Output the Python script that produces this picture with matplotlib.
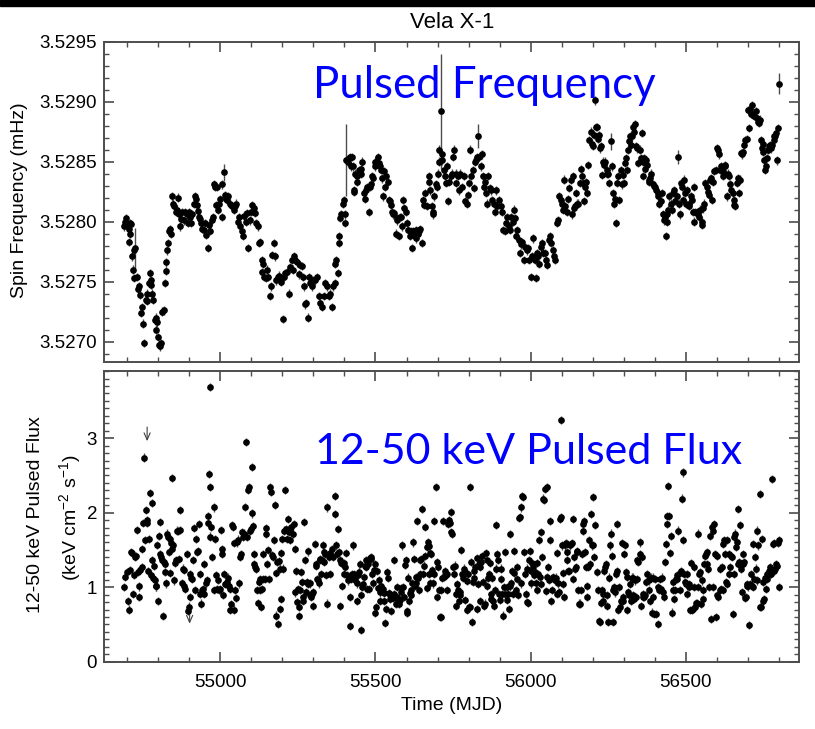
import numpy as np
import matplotlib
matplotlib.use('Agg')
import matplotlib.pyplot as plt
from matplotlib.ticker import MultipleLocator, FormatStrFormatter
from matplotlib.patches import Rectangle

# spin frequency (mHz) vs MJD
freq_mjd = [
    54689, 54694, 54697, 54700, 54705, 54708, 54712, 54710, 54707, 54716,
    54721, 54726, 54718, 54723, 54730, 54734, 54738, 54742, 54745, 54749,
    54751, 54753, 54759, 54762, 54764, 54769, 54773, 54775, 54777, 54780,
    54783, 54788, 54791, 54794, 54796, 54798, 54801, 54805, 54809, 54813,
    54818, 54820, 54824, 54826, 54828, 54830, 54833, 54837, 54841, 54844,
    54848, 54852, 54856, 54861, 54864, 54867, 54871, 54874, 54878, 54882,
    54887, 54891, 54895, 54898, 54901, 54906, 54910, 54914, 54918, 54921,
    54925, 54928, 54931, 54936, 54939, 54942, 54946, 54951, 54955, 54959,
    54964, 54968, 54972, 54976, 54981, 54984, 54987, 54989, 54992, 54996,
    55000, 55004, 55006, 55011, 55014, 55017, 55021, 55026, 55030, 55034,
    55039, 55043, 55047, 55052, 55056, 55060, 55064, 55069, 55073, 55077,
    55082, 55086, 55090, 55094, 55099, 55103, 55107, 55112, 55116, 55120,
    55124, 55129, 55133, 55135, 55139, 55142, 55146, 55150, 55155, 55159,
    55163, 55167, 55172, 55176, 55180, 55185, 55189, 55193, 55197, 55202,
    55204, 55209, 55215, 55220, 55225, 55231, 55234, 55238, 55242, 55247,
    55252, 55258, 55263, 55268, 55270, 55273, 55277, 55281, 55285, 55290,
    55294, 55300, 55306, 55311, 55317, 55322, 55327, 55333, 55338, 55343,
    55349, 55354, 55360, 55363, 55368, 55371, 55374, 55378, 55382, 55384,
    55387, 55390, 55394, 55398, 55401, 55403, 55406, 55411, 55414, 55417,
    55421, 55425, 55428, 55430, 55432, 55435, 55439, 55441, 55446, 55452,
    55454, 55457, 55462, 55466, 55469, 55473, 55478, 55481, 55486, 55489,
    55492, 55497, 55500, 55503, 55508, 55511, 55514, 55518, 55522, 55525,
    55529, 55532, 55535, 55540, 55543, 55546, 55551, 55554, 55557, 55561,
    55565, 55568, 55570, 55575, 55578, 55583, 55586, 55589, 55591, 55597,
    55602, 55606, 55611, 55613, 55618, 55622, 55626, 55629, 55632, 55637,
    55640, 55645, 55649, 55654, 55656, 55661, 55667, 55671, 55674, 55677,
    55681, 55684, 55687, 55690, 55695, 55699, 55702, 55704, 55706, 55710,
    55713, 55716, 55720, 55724, 55727, 55731, 55733, 55738, 55742, 55746,
    55749, 55753, 55758, 55761, 55766, 55769, 55774, 55780, 55785, 55790,
    55794, 55798, 55802, 55804, 55809, 55813, 55817, 55822, 55825, 55828,
    55832, 55835, 55839, 55842, 55845, 55849, 55853, 55856, 55860, 55863,
    55868, 55871, 55876, 55882, 55885, 55889, 55892, 55898, 55903, 55908,
    55912, 55916, 55920, 55925, 55929, 55933, 55938, 55942, 55946, 55949,
    55953, 55957, 55962, 55966, 55970, 55973, 55979, 55983, 55987, 55991,
    55996, 56000, 56005, 56009, 56013, 56016, 56019, 56024, 56028, 56032,
    56037, 56041, 56045, 56049, 56054, 56058, 56062, 56067, 56071, 56075,
    56080, 56084, 56088, 56092, 56097, 56100, 56105, 56108, 56111, 56116,
    56122, 56125, 56129, 56132, 56136, 56140, 56143, 56146, 56148, 56154,
    56159, 56161, 56165, 56168, 56172, 56175, 56179, 56181, 56186, 56189,
    56194, 56197, 56200, 56203, 56207, 56210, 56213, 56216, 56219, 56224,
    56227, 56230, 56234, 56238, 56241, 56245, 56247, 56251, 56254, 56258,
    56261, 56265, 56269, 56272, 56275, 56277, 56282, 56286, 56290, 56294,
    56297, 56301, 56304, 56308, 56312, 56315, 56318, 56320, 56323, 56326,
    56329, 56333, 56337, 56340, 56344, 56347, 56351, 56355, 56358, 56361,
    56363, 56367, 56370, 56372, 56376, 56380, 56383, 56385, 56389, 56394,
    56398, 56401, 56404, 56409, 56412, 56415, 56419, 56423, 56426, 56430,
    56433, 56437, 56439, 56441, 56444, 56447, 56452, 56455, 56458, 56462,
    56466, 56471, 56474, 56477, 56482, 56484, 56487, 56490, 56495, 56499,
    56501, 56505, 56509, 56512, 56516, 56519, 56523, 56525, 56528, 56531,
    56535, 56539, 56542, 56546, 56551, 56554, 56557, 56560, 56563, 56568,
    56571, 56574, 56578, 56582, 56585, 56589, 56592, 56596, 56600, 56604,
    56606, 56611, 56615, 56619, 56621, 56625, 56628, 56632, 56635, 56639,
    56643, 56647, 56651, 56654, 56657, 56660, 56664, 56668, 56671, 56675,
    56678, 56682, 56686, 56689, 56692, 56697, 56702, 56705, 56707, 56711,
    56714, 56717, 56720, 56725, 56729, 56732, 56735, 56738, 56742, 56745,
    56748, 56750, 56753, 56756, 56759, 56761, 56764, 56767, 56772, 56774,
    56778, 56783, 56786, 56789, 56791, 56795, 56798, 56801,
]
freq_val = [
    3.52796, 3.52800, 3.52803, 3.52796, 3.52794, 3.52799, 3.52798, 3.52790, 3.52783, 3.52771,
    3.52776, 3.52778, 3.52760, 3.52753, 3.52754, 3.52744, 3.52746, 3.52739, 3.52724, 3.52729,
    3.52715, 3.52699, 3.52735, 3.52740, 3.52734, 3.52749, 3.52757, 3.52751, 3.52747, 3.52740,
    3.52735, 3.52718, 3.52710, 3.52720, 3.52716, 3.52704, 3.52697, 3.52696, 3.52699, 3.52725,
    3.52726, 3.52749, 3.52759, 3.52766, 3.52776, 3.52782, 3.52792, 3.52794, 3.52790, 3.52821,
    3.52815, 3.52813, 3.52808, 3.52810, 3.52820, 3.52806, 3.52796, 3.52802, 3.52808, 3.52801,
    3.52808, 3.52806, 3.52799, 3.52808, 3.52804, 3.52799, 3.52806, 3.52815, 3.52821, 3.52819,
    3.52814, 3.52809, 3.52804, 3.52802, 3.52799, 3.52794, 3.52793, 3.52799, 3.52789, 3.52778,
    3.52797, 3.52792, 3.52801, 3.52804, 3.52831, 3.52829, 3.52814, 3.52829, 3.52810, 3.52815,
    3.52819, 3.52804, 3.52831, 3.52841, 3.52822, 3.52819, 3.52818, 3.52821, 3.52815, 3.52814,
    3.52813, 3.52810, 3.52813, 3.52815, 3.52800, 3.52804, 3.52796, 3.52792, 3.52788, 3.52805,
    3.52800, 3.52807, 3.52778, 3.52801, 3.52808, 3.52814, 3.52811, 3.52807, 3.52799, 3.52796,
    3.52782, 3.52783, 3.52768, 3.52758, 3.52765, 3.52754, 3.52753, 3.52760, 3.52754, 3.52738,
    3.52746, 3.52772, 3.52782, 3.52771, 3.52751, 3.52754, 3.52755, 3.52751, 3.52750, 3.52719,
    3.52754, 3.52757, 3.52758, 3.52740, 3.52762, 3.52768, 3.52760, 3.52771, 3.52768, 3.52766,
    3.52756, 3.52764, 3.52763, 3.52754, 3.52746, 3.52731, 3.52732, 3.52720, 3.52754, 3.52749,
    3.52746, 3.52751, 3.52751, 3.52754, 3.52738, 3.52732, 3.52729, 3.52738, 3.52749, 3.52746,
    3.52738, 3.52740, 3.52729, 3.52746, 3.52749, 3.52765, 3.52768, 3.52757, 3.52782, 3.52788,
    3.52803, 3.52806, 3.52815, 3.52818, 3.52799, 3.52806, 3.52851, 3.52850, 3.52853, 3.52854,
    3.52846, 3.52854, 3.52846, 3.52826, 3.52825, 3.52840, 3.52833, 3.52838, 3.52843, 3.52840,
    3.52844, 3.52850, 3.52824, 3.52819, 3.52826, 3.52829, 3.52808, 3.52829, 3.52831, 3.52838,
    3.52836, 3.52850, 3.52846, 3.52850, 3.52854, 3.52849, 3.52846, 3.52843, 3.52836, 3.52821,
    3.52842, 3.52829, 3.52838, 3.52833, 3.52818, 3.52817, 3.52814, 3.52808, 3.52806, 3.52807,
    3.52790, 3.52801, 3.52803, 3.52788, 3.52804, 3.52804, 3.52796, 3.52818, 3.52811, 3.52808,
    3.52799, 3.52793, 3.52788, 3.52792, 3.52778, 3.52792, 3.52788, 3.52793, 3.52786, 3.52790,
    3.52792, 3.52794, 3.52782, 3.52818, 3.52814, 3.52824, 3.52813, 3.52838, 3.52833, 3.52826,
    3.52813, 3.52808, 3.52806, 3.52821, 3.52831, 3.52829, 3.52840, 3.52850, 3.52860, 3.52892,
    3.52856, 3.52851, 3.52843, 3.52838, 3.52832, 3.52846, 3.52817, 3.52833, 3.52838, 3.52840,
    3.52854, 3.52860, 3.52840, 3.52832, 3.52838, 3.52826, 3.52840, 3.52829, 3.52838, 3.52817,
    3.52815, 3.52822, 3.52832, 3.52860, 3.52838, 3.52843, 3.52828, 3.52850, 3.52851, 3.52854,
    3.52871, 3.52854, 3.52846, 3.52856, 3.52838, 3.52829, 3.52833, 3.52824, 3.52815, 3.52838,
    3.52828, 3.52826, 3.52818, 3.52815, 3.52808, 3.52826, 3.52813, 3.52818, 3.52813, 3.52808,
    3.52793, 3.52792, 3.52799, 3.52804, 3.52796, 3.52793, 3.52804, 3.52800, 3.52810, 3.52803,
    3.52788, 3.52793, 3.52785, 3.52774, 3.52781, 3.52783, 3.52768, 3.52779, 3.52776, 3.52778,
    3.52768, 3.52754, 3.52771, 3.52786, 3.52768, 3.52753, 3.52774, 3.52771, 3.52765, 3.52779,
    3.52782, 3.52774, 3.52774, 3.52768, 3.52764, 3.52785, 3.52788, 3.52782, 3.52776, 3.52771,
    3.52768, 3.52799, 3.52801, 3.52821, 3.52818, 3.52815, 3.52810, 3.52835, 3.52813, 3.52808,
    3.52819, 3.52828, 3.52835, 3.52806, 3.52838, 3.52811, 3.52813, 3.52824, 3.52815, 3.52815,
    3.52832, 3.52844, 3.52838, 3.52832, 3.52817, 3.52829, 3.52833, 3.52824, 3.52847, 3.52868,
    3.52875, 3.52865, 3.52863, 3.52872, 3.52901, 3.52879, 3.52879, 3.52869, 3.52872, 3.52861,
    3.52863, 3.52839, 3.52850, 3.52847, 3.52850, 3.52840, 3.52843, 3.52840, 3.52832, 3.52867,
    3.52846, 3.52824, 3.52815, 3.52819, 3.52799, 3.52832, 3.52838, 3.52818, 3.52843, 3.52831,
    3.52839, 3.52832, 3.52849, 3.52853, 3.52843, 3.52860, 3.52867, 3.52871, 3.52864, 3.52871,
    3.52879, 3.52875, 3.52881, 3.52863, 3.52861, 3.52849, 3.52860, 3.52853, 3.52874, 3.52850,
    3.52838, 3.52853, 3.52844, 3.52851, 3.52847, 3.52833, 3.52835, 3.52836, 3.52840, 3.52831,
    3.52830, 3.52829, 3.52826, 3.52824, 3.52821, 3.52815, 3.52817, 3.52824, 3.52806, 3.52801,
    3.52804, 3.52788, 3.52806, 3.52800, 3.52810, 3.52821, 3.52815, 3.52810, 3.52824, 3.52826,
    3.52817, 3.52821, 3.52854, 3.52815, 3.52806, 3.52832, 3.52829, 3.52818, 3.52835, 3.52824,
    3.52815, 3.52826, 3.52813, 3.52815, 3.52821, 3.52818, 3.52808, 3.52800, 3.52829, 3.52808,
    3.52808, 3.52806, 3.52804, 3.52810, 3.52800, 3.52797, 3.52811, 3.52815, 3.52832, 3.52829,
    3.52825, 3.52822, 3.52835, 3.52836, 3.52818, 3.52833, 3.52842, 3.52843, 3.52861, 3.52860,
    3.52856, 3.52843, 3.52846, 3.52838, 3.52842, 3.52846, 3.52847, 3.52821, 3.52840, 3.52838,
    3.52831, 3.52826, 3.52824, 3.52818, 3.52814, 3.52813, 3.52832, 3.52836, 3.52824, 3.52835,
    3.52857, 3.52856, 3.52858, 3.52864, 3.52868, 3.52869, 3.52893, 3.52878, 3.52894, 3.52890,
    3.52897, 3.52889, 3.52888, 3.52892, 3.52886, 3.52883, 3.52882, 3.52885, 3.52868, 3.52861,
    3.52858, 3.52865, 3.52851, 3.52843, 3.52846, 3.52853, 3.52860, 3.52863, 3.52864, 3.52861,
    3.52864, 3.52871, 3.52868, 3.52871, 3.52874, 3.52851, 3.52878, 3.52915,
]
FREQ_ERR = 0.000035
# points with visibly longer error bars
wide_err_mjd = [54726, 55011, 55406, 55710, 55832, 56258, 56474, 56801]
wide_err_val = [0.00017, 0.00007, 0.00030, 0.00048, 0.00010, 0.00007, 0.00006, 0.00009]

# 12-50 keV pulsed flux (keV cm^-2 s^-1) vs MJD
flux_mjd = [
    54691, 54694, 54700, 54703, 54707, 54710, 54712, 54716, 54719, 54721,
    54724, 54727, 54730, 54734, 54737, 54739, 54742, 54746, 54748, 54751,
    54753, 54756, 54761, 54762, 54764, 54766, 54769, 54773, 54777, 54780,
    54781, 54783, 54785, 54788, 54791, 54794, 54796, 54798, 54801, 54805,
    54807, 54810, 54812, 54815, 54818, 54821, 54823, 54826, 54828, 54830,
    54834, 54837, 54839, 54841, 54843, 54845, 54848, 54852, 54855, 54858,
    54860, 54863, 54866, 54869, 54871, 54877, 54880, 54882, 54884, 54887,
    54891, 54895, 54898, 54901, 54903, 54906, 54909, 54912, 54916, 54919,
    54923, 54925, 54928, 54931, 54933, 54936, 54938, 54941, 54944, 54946,
    54948, 54953, 54957, 54959, 54960, 54962, 54966, 54968, 54971, 54973,
    54979, 54981, 54984, 54987, 54989, 54992, 54996, 54998, 55002, 55004,
    55005, 55009, 55013, 55016, 55019, 55021, 55024, 55027, 55030, 55032,
    55034, 55039, 55041, 55043, 55045, 55048, 55051, 55054, 55056, 55060,
    55064, 55067, 55070, 55073, 55075, 55077, 55080, 55084, 55086, 55088,
    55091, 55094, 55099, 55101, 55103, 55105, 55107, 55109, 55112, 55114,
    55118, 55120, 55123, 55127, 55129, 55132, 55134, 55137, 55139, 55143,
    55146, 55148, 55150, 55153, 55157, 55161, 55164, 55166, 55169, 55172,
    55175, 55178, 55180, 55182, 55186, 55188, 55191, 55193, 55195, 55197,
    55200, 55202, 55206, 55209, 55212, 55215, 55217, 55220, 55223, 55225,
    55228, 55233, 55236, 55239, 55241, 55245, 55247, 55249, 55252, 55254,
    55258, 55261, 55263, 55266, 55268, 55270, 55273, 55275, 55279, 55282,
    55284, 55288, 55290, 55292, 55295, 55298, 55300, 55304, 55307, 55309,
    55311, 55314, 55318, 55320, 55322, 55324, 55327, 55330, 55333, 55335,
    55338, 55340, 55343, 55345, 55349, 55352, 55354, 55360, 55363, 55368,
    55371, 55374, 55376, 55378, 55382, 55385, 55387, 55389, 55392, 55396,
    55398, 55400, 55403, 55406, 55409, 55411, 55414, 55417, 55419, 55421,
    55425, 55428, 55430, 55432, 55435, 55439, 55441, 55443, 55446, 55449,
    55452, 55454, 55457, 55460, 55462, 55465, 55468, 55471, 55473, 55475,
    55478, 55482, 55484, 55486, 55489, 55492, 55495, 55497, 55500, 55503,
    55505, 55508, 55511, 55514, 55516, 55518, 55522, 55525, 55527, 55529,
    55532, 55535, 55538, 55540, 55543, 55546, 55548, 55551, 55554, 55557,
    55559, 55561, 55565, 55568, 55570, 55573, 55575, 55578, 55581, 55583,
    55586, 55589, 55591, 55594, 55597, 55600, 55602, 55604, 55608, 55611,
    55613, 55615, 55618, 55622, 55624, 55626, 55629, 55632, 55634, 55637,
    55640, 55643, 55645, 55647, 55651, 55654, 55656, 55658, 55661, 55665,
    55667, 55669, 55671, 55673, 55675, 55677, 55680, 55683, 55686, 55688,
    55690, 55694, 55697, 55699, 55701, 55704, 55708, 55710, 55712, 55715,
    55718, 55720, 55723, 55726, 55729, 55731, 55733, 55737, 55740, 55742,
    55744, 55747, 55751, 55753, 55755, 55758, 55761, 55763, 55766, 55769,
    55772, 55774, 55776, 55780, 55783, 55785, 55787, 55790, 55794, 55796,
    55798, 55801, 55804, 55806, 55809, 55812, 55815, 55817, 55819, 55822,
    55826, 55828, 55830, 55833, 55836, 55838, 55841, 55844, 55847, 55849,
    55852, 55855, 55858, 55860, 55862, 55866, 55869, 55871, 55873, 55876,
    55880, 55882, 55884, 55887, 55890, 55892, 55895, 55898, 55901, 55903,
    55905, 55909, 55912, 55914, 55916, 55919, 55923, 55925, 55927, 55930,
    55933, 55935, 55938, 55941, 55944, 55946, 55948, 55952, 55955, 55957,
    55959, 55962, 55966, 55968, 55970, 55973, 55975, 55978, 55981, 55984,
    55987, 55989, 55991, 55995, 55998, 56000, 56002, 56005, 56009, 56011,
    56013, 56016, 56019, 56021, 56024, 56027, 56030, 56032, 56034, 56038,
    56041, 56043, 56045, 56048, 56052, 56054, 56056, 56059, 56062, 56064,
    56067, 56070, 56073, 56075, 56077, 56081, 56084, 56086, 56088, 56091,
    56095, 56097, 56099, 56100, 56103, 56105, 56108, 56111, 56114, 56116,
    56118, 56122, 56125, 56127, 56129, 56132, 56136, 56138, 56140, 56143,
    56146, 56148, 56151, 56154, 56157, 56159, 56161, 56165, 56168, 56170,
    56172, 56175, 56179, 56181, 56183, 56186, 56189, 56191, 56194, 56197,
    56200, 56202, 56205, 56209, 56213, 56218, 56222, 56224, 56226, 56229,
    56232, 56234, 56237, 56240, 56243, 56245, 56247, 56251, 56254, 56256,
    56259, 56261, 56265, 56267, 56269, 56272, 56275, 56277, 56280, 56283,
    56286, 56288, 56290, 56294, 56297, 56299, 56301, 56304, 56308, 56310,
    56312, 56315, 56318, 56320, 56323, 56326, 56329, 56331, 56333, 56337,
    56340, 56342, 56344, 56347, 56351, 56353, 56355, 56358, 56361, 56363,
    56366, 56369, 56372, 56376, 56380, 56383, 56385, 56387, 56390, 56394,
    56396, 56398, 56401, 56404, 56409, 56412, 56415, 56417, 56419, 56423,
    56426, 56430, 56433, 56437, 56439, 56441, 56444, 56447, 56449, 56452,
    56455, 56458, 56460, 56462, 56466, 56469, 56471, 56473, 56476, 56480,
    56482, 56484, 56487, 56490, 56492, 56495, 56498, 56501, 56503, 56505,
    56509, 56512, 56514, 56516, 56519, 56523, 56525, 56527, 56530, 56533,
    56535, 56538, 56541, 56544, 56546, 56548, 56552, 56555, 56557, 56559,
    56562, 56566, 56568, 56570, 56573, 56576, 56578, 56581, 56584, 56587,
    56589, 56591, 56595, 56598, 56600, 56602, 56605, 56609, 56611, 56613,
    56616, 56619, 56621, 56624, 56627, 56630, 56632, 56634, 56638, 56641,
    56643, 56645, 56648, 56652, 56654, 56656, 56659, 56662, 56664, 56667,
    56670, 56673, 56675, 56677, 56681, 56684, 56686, 56688, 56691, 56695,
    56697, 56699, 56702, 56705, 56707, 56710, 56713, 56716, 56718, 56720,
    56724, 56727, 56729, 56731, 56734, 56738, 56740, 56742, 56745, 56748,
    56750, 56753, 56756, 56759, 56761, 56763, 56767, 56770, 56772, 56774,
    56777, 56781, 56783, 56785, 56788, 56791, 56793, 56796, 56799, 56801,
    54968,
]
flux_val = [
    1.00, 1.14, 1.20, 0.81, 0.70, 1.23, 1.47, 1.46, 0.91, 1.16,
    1.40, 1.42, 1.77, 1.21, 1.01, 0.87, 1.23, 1.27, 1.51, 1.86,
    2.74, 1.63, 2.04, 1.90, 1.86, 1.22, 1.65, 2.26, 1.17, 2.13,
    1.36, 1.13, 1.28, 1.09, 1.01, 1.01, 1.57, 0.82, 1.69, 1.87,
    1.45, 1.40, 1.36, 0.61, 1.34, 1.31, 1.20, 1.05, 1.72, 1.68,
    1.47, 1.65, 1.19, 1.59, 2.47, 1.51, 1.56, 1.09, 1.32, 1.36,
    1.76, 1.75, 1.38, 2.04, 1.77, 1.05, 1.25, 1.02, 1.23, 0.98,
    1.45, 0.68, 0.74, 0.87, 1.18, 1.13, 1.11, 1.36, 1.80, 0.96,
    1.65, 1.47, 1.49, 1.85, 1.18, 0.91, 0.78, 0.96, 0.98, 0.91,
    1.31, 1.05, 1.09, 1.86, 1.96, 2.52, 1.68, 2.35, 1.81, 1.41,
    0.96, 2.07, 1.65, 1.16, 0.98, 1.10, 0.96, 0.97, 1.77, 1.51,
    1.45, 0.89, 1.18, 1.04, 1.04, 1.07, 1.13, 1.02, 0.98, 0.69,
    0.77, 1.84, 1.81, 1.59, 0.70, 0.96, 0.86, 1.60, 1.64, 1.05,
    1.41, 1.45, 1.74, 1.68, 1.71, 1.72, 2.08, 2.95, 1.68, 2.30,
    2.34, 1.76, 1.78, 2.61, 1.99, 1.82, 1.45, 1.31, 1.27, 1.25,
    0.96, 0.79, 1.07, 0.96, 1.11, 0.73, 0.98, 1.11, 1.45, 1.11,
    1.72, 1.80, 1.31, 1.50, 1.11, 2.35, 2.28, 1.43, 1.40, 1.63,
    2.10, 1.19, 0.62, 1.34, 0.51, 1.35, 1.25, 0.71, 1.46, 0.84,
    1.65, 1.25, 1.76, 2.31, 1.78, 1.65, 1.92, 1.74, 1.63, 1.78,
    1.81, 1.72, 1.85, 0.93, 1.51, 1.22, 0.80, 0.98, 0.73, 0.61,
    0.96, 1.20, 1.07, 0.82, 0.87, 1.87, 1.37, 0.93, 1.07, 1.04,
    1.48, 0.89, 1.05, 0.87, 0.91, 0.75, 0.93, 1.58, 1.28, 1.31,
    1.11, 1.09, 1.05, 1.36, 1.38, 1.18, 1.37, 1.56, 1.47, 1.34,
    1.45, 1.16, 2.07, 0.78, 1.40, 1.18, 1.46, 1.51, 1.40, 2.22,
    1.98, 1.56, 1.45, 1.78, 1.47, 1.36, 0.75, 1.32, 1.02, 1.31,
    1.18, 1.32, 1.27, 1.46, 1.16, 1.09, 1.14, 0.87, 0.48, 1.11,
    1.18, 1.56, 1.14, 1.18, 1.09, 0.82, 1.05, 1.16, 1.21, 1.31,
    0.89, 0.43, 1.00, 1.04, 1.14, 1.29, 1.27, 1.36, 0.98, 1.31,
    0.98, 1.39, 1.38, 1.40, 1.18, 1.05, 1.23, 1.31, 0.65, 0.73,
    1.22, 0.99, 1.09, 0.93, 0.82, 1.02, 0.96, 0.98, 0.82, 0.92,
    0.52, 0.71, 1.20, 1.13, 0.92, 0.84, 0.89, 0.68, 0.87, 0.86,
    0.91, 1.36, 0.78, 0.87, 1.00, 0.83, 0.78, 0.83, 0.93, 0.99,
    1.56, 1.00, 0.87, 1.30, 1.36, 0.68, 0.66, 1.13, 0.82, 0.92,
    0.89, 0.96, 1.05, 1.60, 1.38, 1.02, 1.05, 1.14, 1.89, 1.13,
    0.96, 1.18, 1.36, 1.38, 2.05, 1.18, 1.29, 1.42, 1.81, 0.99,
    1.54, 1.60, 1.55, 1.18, 1.46, 1.05, 1.45, 1.23, 1.05, 1.18,
    1.89, 2.34, 0.87, 1.34, 1.27, 0.96, 0.60, 0.96, 0.60, 1.13,
    1.89, 1.14, 1.22, 1.16, 0.96, 1.18, 1.85, 1.90, 1.86, 1.74,
    2.01, 1.72, 1.27, 1.18, 1.29, 0.75, 0.91, 1.04, 0.96, 0.82,
    0.89, 0.93, 1.50, 1.18, 1.13, 1.25, 0.83, 1.20, 1.08, 0.69,
    1.18, 0.73, 2.34, 0.73, 1.34, 0.53, 1.07, 1.13, 1.22, 1.27,
    1.39, 0.71, 1.04, 1.31, 1.27, 0.82, 1.34, 1.42, 1.07, 0.75,
    0.78, 1.46, 1.36, 1.02, 1.13, 1.18, 1.32, 0.91, 0.84, 1.13,
    0.82, 0.75, 0.96, 1.25, 1.84, 1.45, 1.36, 0.91, 0.83, 1.25,
    1.11, 0.91, 0.62, 1.00, 0.91, 1.47, 1.00, 0.83, 0.91, 0.71,
    1.71, 1.01, 1.05, 1.22, 0.91, 1.49, 1.19, 0.96, 1.11, 1.27,
    0.89, 1.93, 1.94, 1.05, 2.07, 2.22, 2.21, 1.47, 1.18, 0.91,
    0.80, 1.25, 0.79, 1.36, 1.49, 1.05, 1.22, 1.32, 1.27, 1.16,
    1.20, 1.05, 1.32, 0.96, 1.18, 1.63, 1.14, 1.04, 1.74, 1.40,
    2.19, 2.17, 2.32, 0.95, 1.14, 2.34, 1.27, 1.10, 1.89, 1.63,
    0.82, 0.96, 1.14, 1.11, 1.09, 1.13, 1.46, 0.91, 1.05, 0.93,
    1.92, 3.24, 1.94, 1.56, 1.19, 1.04, 0.87, 1.56, 1.59, 1.47,
    1.36, 1.22, 1.22, 1.56, 1.58, 1.59, 1.11, 1.92, 1.40, 1.25,
    1.27, 1.48, 1.47, 0.96, 0.78, 0.78, 0.96, 1.45, 1.85, 1.75,
    1.89, 1.47, 1.27, 1.02, 0.87, 1.27, 1.63, 1.31, 1.98, 1.56,
    1.57, 2.21, 1.40, 1.84, 1.20, 0.96, 0.55, 0.53, 0.79, 0.96,
    0.82, 0.91, 1.22, 1.27, 1.31, 0.75, 0.89, 0.53, 1.13, 1.56,
    1.72, 1.42, 0.96, 0.53, 1.00, 0.93, 1.18, 1.85, 1.22, 0.69,
    1.00, 0.73, 0.82, 1.59, 0.87, 0.82, 1.45, 1.57, 1.20, 1.14,
    0.69, 0.93, 0.90, 1.04, 0.82, 1.13, 1.13, 0.89, 0.84, 1.09,
    0.87, 1.11, 1.36, 1.34, 1.45, 1.60, 0.75, 1.40, 0.87, 0.91,
    0.87, 0.89, 1.07, 1.18, 0.96, 1.09, 0.82, 1.13, 0.66, 1.13,
    0.87, 0.64, 1.11, 0.64, 1.00, 0.51, 0.96, 1.11, 0.98, 1.13,
    0.93, 0.87, 1.34, 1.58, 1.85, 1.96, 2.36, 1.96, 1.46, 1.69,
    0.66, 0.96, 1.07, 0.84, 0.96, 1.11, 1.16, 1.11, 1.76, 0.96,
    1.19, 1.22, 2.19, 1.63, 2.54, 1.18, 1.07, 1.04, 0.91, 1.18,
    1.04, 1.00, 0.69, 1.32, 0.69, 0.71, 1.00, 1.27, 0.73, 0.79,
    0.79, 1.00, 1.72, 1.18, 1.20, 0.78, 1.09, 0.84, 0.96, 1.31,
    1.42, 1.45, 1.47, 1.31, 1.25, 1.00, 1.69, 0.57, 1.81, 1.76,
    1.00, 1.85, 1.45, 0.60, 0.89, 1.42, 0.87, 0.96, 1.25, 0.98,
    1.27, 0.96, 1.58, 1.63, 1.45, 1.07, 1.63, 1.04, 1.45, 1.18,
    1.27, 1.42, 1.40, 0.64, 1.18, 1.67, 1.72, 1.54, 1.60, 1.31,
    2.05, 1.34, 1.84, 1.25, 0.93, 1.45, 1.31, 1.34, 0.86, 0.87,
    1.02, 1.04, 1.01, 0.49, 1.04, 1.18, 1.02, 1.58, 1.00, 1.11,
    1.40, 1.25, 1.76, 1.09, 1.56, 0.73, 2.25, 0.73, 1.65, 0.82,
    1.07, 0.84, 1.13, 0.98, 1.11, 1.18, 1.22, 1.18, 1.27, 1.18,
    2.45, 1.58, 1.22, 1.59, 1.25, 1.31, 1.28, 1.59, 1.00, 1.63,
    3.69,
]
FLUX_ERR = 0.055
# upper limits (drawn as down arrows)
ul_mjd = [54764, 54901]
ul_val = [3.15, 0.70]

plt.rcParams['font.family'] = ['Liberation Sans', 'DejaVu Sans']
plt.rcParams['mathtext.default'] = 'regular'

W, H = 815, 729
fig = plt.figure(figsize=(W / 100, H / 100), dpi=100)


def box(left, top, right, bottom):
    return [left / W, 1 - bottom / H, (right - left) / W, (bottom - top) / H]


ax1 = fig.add_axes(box(104, 41.7, 799.3, 362.3))
ax2 = fig.add_axes(box(104, 370.7, 799.3, 661.7))

ferr = np.full(len(freq_mjd), FREQ_ERR)
for m, e in zip(wide_err_mjd, wide_err_val):
    ferr[np.array(freq_mjd) == m] = e

ax1.errorbar(freq_mjd, freq_val, yerr=ferr, fmt='o', ms=3.8, mfc='k', mec='k',
             ecolor='0.3', elinewidth=1.0, capsize=0, zorder=3)
ax2.errorbar(flux_mjd, flux_val, yerr=FLUX_ERR, fmt='o', ms=3.8, mfc='k', mec='k',
             ecolor='0.3', elinewidth=1.0, capsize=0, zorder=3)
for m, v in zip(ul_mjd, ul_val):
    ax2.annotate('', xy=(m, v - 0.19), xytext=(m, v),
                 arrowprops=dict(arrowstyle='->,head_length=0.5,head_width=0.22',
                                 color='0.25', lw=0.8, shrinkA=0, shrinkB=0))

for ax in (ax1, ax2):
    ax.set_xlim(54625, 56866)
    ax.xaxis.set_major_locator(MultipleLocator(500))
    ax.xaxis.set_minor_locator(MultipleLocator(100))
    ax.tick_params(which='both', direction='in', top=True, right=True,
                   color='0.3', labelsize=13.5)
    ax.tick_params(which='major', length=7, width=1.2)
    ax.tick_params(which='minor', length=3.5, width=1.0)
    ax.tick_params(axis='y', pad=5)
    ax.tick_params(axis='x', pad=9)
    for s in ax.spines.values():
        s.set_linewidth(1.4)
        s.set_color('0.3')

ax1.tick_params(labelbottom=False)
ax1.set_ylim(3.526828, 3.5295)
ax1.yaxis.set_major_locator(MultipleLocator(0.0005))
ax1.yaxis.set_minor_locator(MultipleLocator(0.0001))
ax1.yaxis.set_major_formatter(FormatStrFormatter('%.4f'))

ax2.set_ylim(0, 3.906)
ax2.yaxis.set_major_locator(MultipleLocator(1))
ax2.yaxis.set_minor_locator(MultipleLocator(0.1))
ax2.yaxis.set_major_formatter(FormatStrFormatter('%d'))

fig.text(452 / W, 1 - 22 / H, 'Vela X-1', ha='center', va='center', fontsize=16)
fig.text(20 / W, 1 - 200 / H, 'Spin Frequency (mHz)', rotation=90,
         ha='center', va='center', fontsize=14)
fig.text(36 / W, 1 - 515 / H, '12-50 keV Pulsed Flux', rotation=90,
         ha='center', va='center', fontsize=14)
fig.text(70 / W, 1 - 518 / H, '(keV cm$^{-2}$ s$^{-1}$)', rotation=90,
         ha='center', va='center', fontsize=14)
fig.text(452 / W, 1 - 705 / H, 'Time (MJD)', ha='center', va='center', fontsize=14)

blue_font = ['Lato', 'DejaVu Sans']
fig.text(313 / W, 1 - 98 / H, 'Pulsed Frequency', family=blue_font,
         fontsize=31.5, color='#0000ff', va='baseline')
fig.text(315 / W, 1 - 464 / H, '12-50 keV Pulsed Flux', family=blue_font,
         fontsize=31, color='#0000ff', va='baseline')

# black strip along the top edge
fig.patches.append(Rectangle((0, 1 - 6 / H), 1, 6 / H, transform=fig.transFigure,
                             color='k', zorder=10))

fig.savefig('out.png', dpi=100)
